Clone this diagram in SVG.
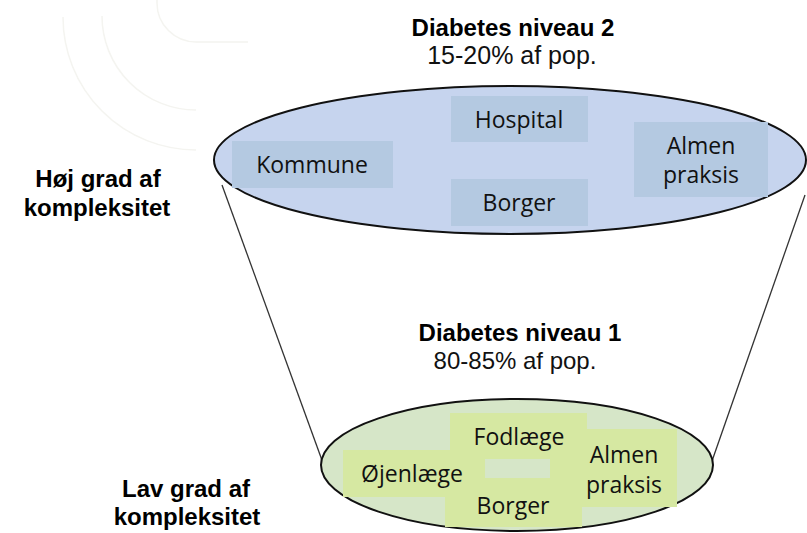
<svg xmlns="http://www.w3.org/2000/svg" width="807" height="533" viewBox="0 0 807 533">
<style>
.lbl{font-family:"Open Sans","Noto Sans","Liberation Sans",sans-serif;font-size:23px;fill:#111;text-anchor:middle}
.bold{font-family:"Liberation Sans",Arial,sans-serif;font-size:24px;font-weight:bold;fill:#000;text-anchor:middle}
.arial{font-family:"Liberation Sans",Arial,sans-serif;font-size:25px;fill:#111;text-anchor:middle}
.sub{font-family:"Liberation Sans",Arial,sans-serif;font-size:24px;fill:#111;text-anchor:middle}
.bbox{fill:#b4c9e1}
.gbox{fill:#d6e8a2}
.ell{stroke:#111;stroke-width:2}
.wm{fill:none;stroke:#f4f4f0;stroke-width:1.5}
</style>
<g id="watermark">
<path class="wm" d="M63,17 A133,133 0 0 0 196,150"/>
<path class="wm" d="M102,16 A94,94 0 0 0 196,110"/>
<path class="wm" d="M157,0 L157,3 A39,39 0 0 0 196,42 L248,42"/>
</g>
<g id="connectors">
<line x1="222" y1="185" x2="323" y2="463" stroke="#333" stroke-width="1.3"/>
<line x1="805" y1="195" x2="712" y2="461" stroke="#333" stroke-width="1.3"/>
</g>
<g id="level2">
<ellipse class="ell" cx="510" cy="160" rx="296" ry="74" fill="#c6d4ee"/>
<text class="bold" x="513" y="36">Diabetes niveau 2</text>
<text class="arial" x="512" y="64">15-20% af pop.</text>
</g>
<g id="hospital"><rect class="bbox" x="451" y="96" width="137" height="46"/><text class="lbl" x="519" y="128">Hospital</text></g>
<g id="kommune"><rect class="bbox" x="232" y="141" width="161" height="47"/><text class="lbl" x="312" y="173">Kommune</text></g>
<g id="borger2"><rect class="bbox" x="451" y="179" width="137" height="47"/><text class="lbl" x="519" y="211">Borger</text></g>
<g id="almen2"><rect class="bbox" x="634" y="122" width="134" height="75"/><text class="lbl" x="701" y="154">Almen</text><text class="lbl" x="701" y="183">praksis</text></g>
<g id="level1">
<ellipse class="ell" cx="517" cy="465" rx="196" ry="66" fill="#d6e6c8"/>
<text class="bold" x="520" y="341">Diabetes niveau 1</text>
<text class="sub" x="515" y="369">80-85% af pop.</text>
</g>
<g id="borger1"><rect class="gbox" x="445" y="459" width="137" height="68"/><rect x="485" y="459" width="65" height="19" fill="#d6e6c8"/><text class="lbl" x="513" y="514">Borger</text></g>
<g id="fodlaege"><rect class="gbox" x="450" y="413" width="137" height="46"/><text class="lbl" x="519" y="445">Fodlæge</text></g>
<g id="almen1"><rect class="gbox" x="573" y="429" width="104" height="78"/><text class="lbl" x="624" y="463">Almen</text><text class="lbl" x="624" y="493">praksis</text></g>
<g id="ojenlaege"><rect class="gbox" x="343" y="450" width="142" height="47"/><text class="lbl" x="412" y="482">Øjenlæge</text></g>
<g id="side-labels">
<text class="bold" x="98" y="187">Høj grad af</text>
<text class="bold" x="97" y="216">kompleksitet</text>
<text class="bold" x="186" y="497">Lav grad af</text>
<text class="bold" x="187" y="525">kompleksitet</text>
</g>
</svg>
